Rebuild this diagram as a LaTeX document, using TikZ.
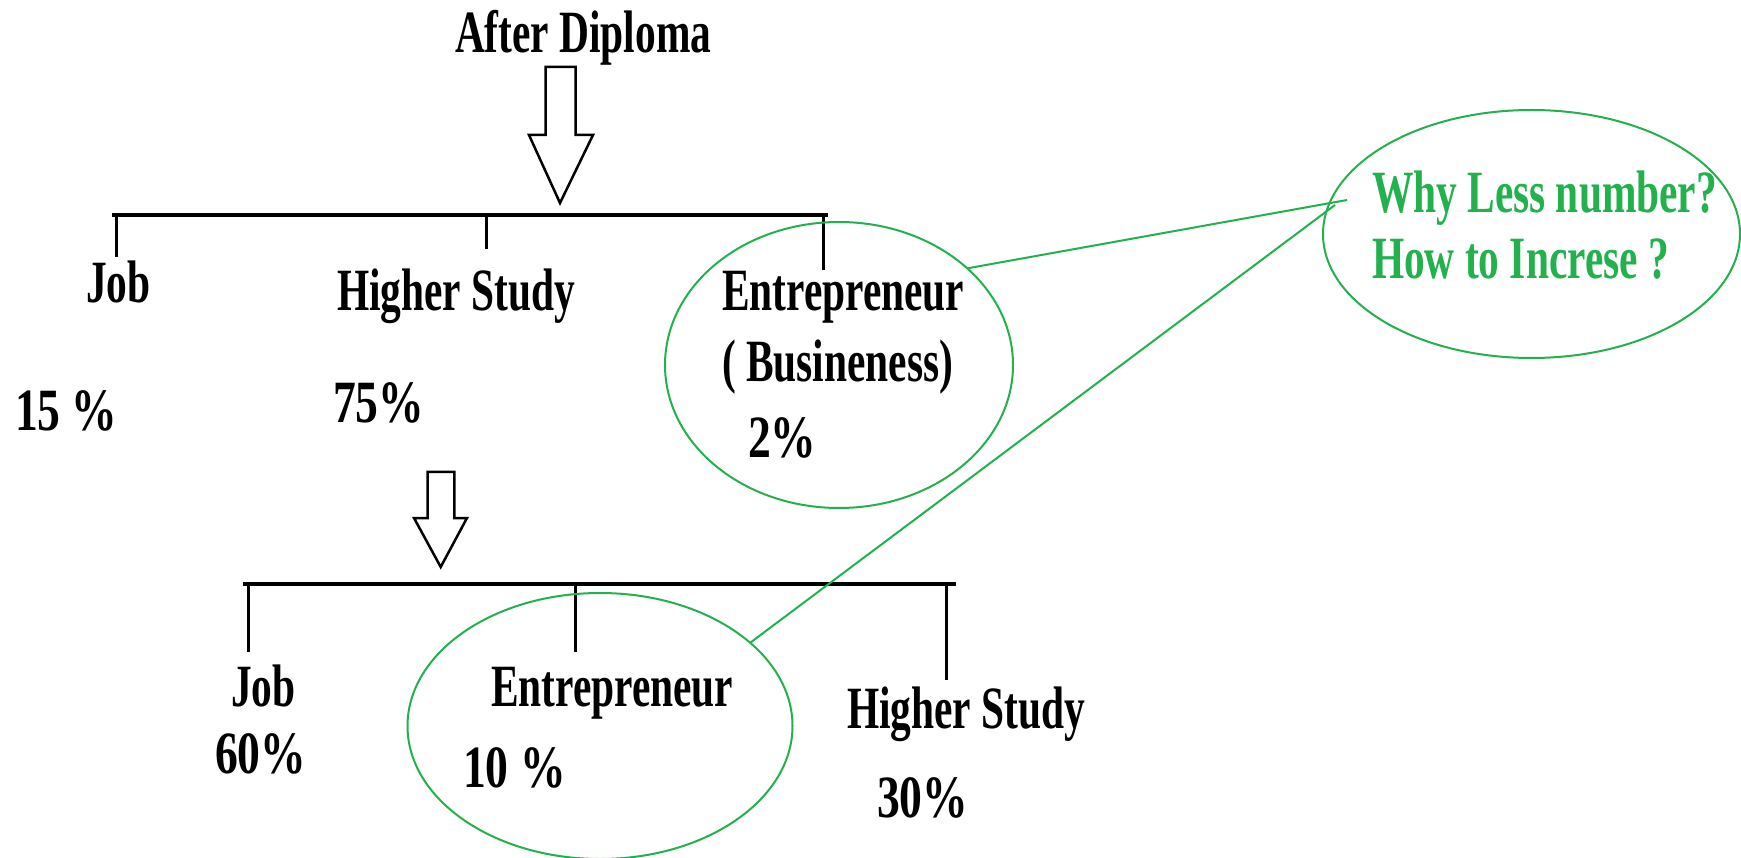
\documentclass[tikz,border=0pt]{standalone}
\usepackage{fontspec}
\setmainfont{Liberation Serif}[FakeStretch=0.69]
\newfontfamily\numfont{Liberation Serif}[FakeStretch=0.76]
\usetikzlibrary{shapes.geometric}
\definecolor{pgreen}{RGB}{34,177,76}
\begin{document}
\begin{tikzpicture}[x=1pt,y=-1pt,
  lbl/.style={anchor=base west, inner sep=0pt, outer sep=0pt, font=\fontsize{60pt}{70pt}\selectfont\bfseries},
  nlbl/.style={lbl, font=\fontsize{60pt}{70pt}\numfont\bfseries},
  glbl/.style={lbl, text=pgreen},
  bar/.style={line width=4pt},
  tick/.style={line width=3pt},
  blockarrow/.style={line width=2.5pt, line join=miter, fill=white},
  ring/.style={draw=pgreen, line width=2pt, ellipse, inner sep=0pt, outer sep=0pt},
  link/.style={draw=pgreen, line width=2pt}]
\useasboundingbox (0,0) rectangle (1741,858);

% ---- labels ----
\node[lbl] (top) at (455,53) {After Diploma};
\node[lbl] (job1) at (86,303) {Job};
\node[lbl] (hs1) at (337,311) {Higher Study};
\node[lbl] (ent1) at (722,311) {Entrepreneur};
\node[lbl] (bus1) at (722,382) {( Busineness)};
\node[nlbl] (p2) at (748,457) {2\%};
\node[nlbl] (p15) at (15,431) {15 \%};
\node[nlbl] (p75) at (333,423) {75\%};
\node[glbl] (q1) at (1372,213) {Why Less number?};
\node[glbl] (q2) at (1372,279) {How to Increse ?};
\node[lbl] (job2) at (231,706) {Job};
\node[nlbl] (p60) at (215,773) {60\%};
\node[lbl] (ent2) at (491,706) {Entrepreneur};
\node[nlbl] (p10) at (463,787) {10 \%};
\node[lbl] (hs2) at (847,728) {Higher Study};
\node[nlbl] (p30) at (877,817) {30\%};

% ---- block arrows ----
\draw[blockarrow] (545.7,67) -- (575.7,67) -- (575.7,135) -- (593,135) -- (560,203) -- (529,135) -- (545.7,135) -- cycle;
\draw[blockarrow] (427.7,472) -- (454.3,472) -- (454.3,518) -- (467,518) -- (440.7,567) -- (414,518) -- (427.7,518) -- cycle;

% ---- top bar and ticks ----
\coordinate (b1l) at (112,215);
\coordinate (b1r) at (828,215);
\draw[bar] (b1l) -- (b1r);
\coordinate (t1a) at (116,215); \coordinate (t1b) at (116,257);
\coordinate (t2a) at (486,215); \coordinate (t2b) at (486,249);
\coordinate (t3a) at (823,215); \coordinate (t3b) at (823,270);
\draw[tick] (t1a) -- (t1b);
\draw[tick] (t2a) -- (t2b);
\draw[tick] (t3a) -- (t3b);

% ---- bottom bar and ticks ----
\coordinate (b2l) at (243,584);
\coordinate (b2r) at (956,584);
\draw[bar] (b2l) -- (b2r);
\coordinate (u1a) at (248.7,584); \coordinate (u1b) at (248.7,652);
\coordinate (u2a) at (575,584); \coordinate (u2b) at (575,652);
\coordinate (u3a) at (946,584); \coordinate (u3b) at (946,680);
\draw[tick] (u1a) -- (u1b);
\draw[tick] (u2a) -- (u2b);
\draw[tick] (u3a) -- (u3b);

% ---- green ellipses ----
\node[ring, minimum width=348pt, minimum height=286pt] (e1) at (839,365) {};
\node[ring, minimum width=417pt, minimum height=248pt] (e2) at (1531.5,234) {};
\node[ring, minimum width=385pt, minimum height=266pt] (e3) at (600,726) {};

% ---- green links ----
\coordinate (qa) at (1347,200);
\coordinate (qb) at (1335,205);
\draw[link] (e1.37) -- (qa);
\draw[link] (e3.29) -- (qb);
\end{tikzpicture}
\end{document}
